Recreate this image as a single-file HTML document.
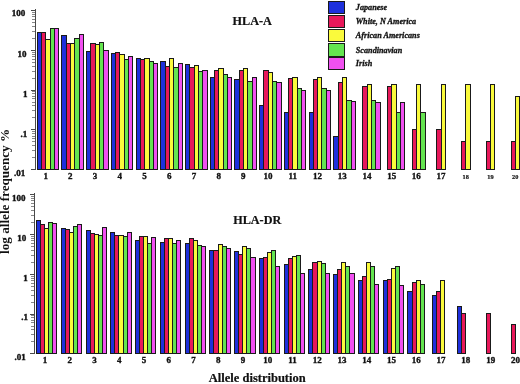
<!DOCTYPE html>
<html><head><meta charset="utf-8"><style>
html,body{margin:0;padding:0;background:#fff;width:520px;height:384px;overflow:hidden}
svg{display:block;will-change:transform}
</style></head><body>
<svg width="520" height="384" viewBox="0 0 520 384">
<style>
text{font-family:"Liberation Serif",serif;font-weight:bold;fill:#111}
.xl{font-size:9px;text-anchor:middle;stroke:#111;stroke-width:0.35px}
.xls{font-size:6.3px;text-anchor:middle;stroke:#111;stroke-width:0.2px}
.yl{font-size:9px;text-anchor:end;stroke:#111;stroke-width:0.4px}
.tt{font-size:12.5px;stroke:#111;stroke-width:0.2px}
.yt{font-size:11.5px}
.lg{font-style:italic;font-size:8.2px;stroke:#111;stroke-width:0.3px}
</style>
<g shape-rendering="crispEdges">
<rect x="37" y="32" width="5" height="138" fill="#1a1a1a"/>
<rect x="38" y="33" width="3" height="136" fill="#1e30dc"/>
<rect x="41" y="32" width="5" height="138" fill="#1a1a1a"/>
<rect x="42" y="33" width="3" height="136" fill="#e8185a"/>
<rect x="45" y="39" width="6" height="131" fill="#1a1a1a"/>
<rect x="46" y="40" width="4" height="129" fill="#fafa3c"/>
<rect x="50" y="28" width="5" height="142" fill="#1a1a1a"/>
<rect x="51" y="29" width="3" height="140" fill="#64e450"/>
<rect x="54" y="28" width="5" height="142" fill="#1a1a1a"/>
<rect x="55" y="29" width="3" height="140" fill="#f050f0"/>
<rect x="61" y="35" width="6" height="135" fill="#1a1a1a"/>
<rect x="62" y="36" width="4" height="133" fill="#1e30dc"/>
<rect x="66" y="43" width="5" height="127" fill="#1a1a1a"/>
<rect x="67" y="44" width="3" height="125" fill="#e8185a"/>
<rect x="70" y="43" width="5" height="127" fill="#1a1a1a"/>
<rect x="71" y="44" width="3" height="125" fill="#fafa3c"/>
<rect x="74" y="38" width="6" height="132" fill="#1a1a1a"/>
<rect x="75" y="39" width="4" height="130" fill="#64e450"/>
<rect x="79" y="34" width="5" height="136" fill="#1a1a1a"/>
<rect x="80" y="35" width="3" height="134" fill="#f050f0"/>
<rect x="86" y="51" width="5" height="119" fill="#1a1a1a"/>
<rect x="87" y="52" width="3" height="117" fill="#1e30dc"/>
<rect x="90" y="43" width="6" height="127" fill="#1a1a1a"/>
<rect x="91" y="44" width="4" height="125" fill="#e8185a"/>
<rect x="95" y="44" width="5" height="126" fill="#1a1a1a"/>
<rect x="96" y="45" width="3" height="124" fill="#fafa3c"/>
<rect x="99" y="42" width="5" height="128" fill="#1a1a1a"/>
<rect x="100" y="43" width="3" height="126" fill="#64e450"/>
<rect x="103" y="50" width="6" height="120" fill="#1a1a1a"/>
<rect x="104" y="51" width="4" height="118" fill="#f050f0"/>
<rect x="111" y="53" width="5" height="117" fill="#1a1a1a"/>
<rect x="112" y="54" width="3" height="115" fill="#1e30dc"/>
<rect x="115" y="52" width="5" height="118" fill="#1a1a1a"/>
<rect x="116" y="53" width="3" height="116" fill="#e8185a"/>
<rect x="119" y="54" width="6" height="116" fill="#1a1a1a"/>
<rect x="120" y="55" width="4" height="114" fill="#fafa3c"/>
<rect x="124" y="59" width="5" height="111" fill="#1a1a1a"/>
<rect x="125" y="60" width="3" height="109" fill="#64e450"/>
<rect x="128" y="56" width="5" height="114" fill="#1a1a1a"/>
<rect x="129" y="57" width="3" height="112" fill="#f050f0"/>
<rect x="136" y="58" width="5" height="112" fill="#1a1a1a"/>
<rect x="137" y="59" width="3" height="110" fill="#1e30dc"/>
<rect x="140" y="59" width="5" height="111" fill="#1a1a1a"/>
<rect x="141" y="60" width="3" height="109" fill="#e8185a"/>
<rect x="144" y="58" width="6" height="112" fill="#1a1a1a"/>
<rect x="145" y="59" width="4" height="110" fill="#fafa3c"/>
<rect x="149" y="61" width="5" height="109" fill="#1a1a1a"/>
<rect x="150" y="62" width="3" height="107" fill="#64e450"/>
<rect x="153" y="63" width="5" height="107" fill="#1a1a1a"/>
<rect x="154" y="64" width="3" height="105" fill="#f050f0"/>
<rect x="160" y="61" width="6" height="109" fill="#1a1a1a"/>
<rect x="161" y="62" width="4" height="107" fill="#1e30dc"/>
<rect x="165" y="66" width="5" height="104" fill="#1a1a1a"/>
<rect x="166" y="67" width="3" height="102" fill="#e8185a"/>
<rect x="169" y="58" width="5" height="112" fill="#1a1a1a"/>
<rect x="170" y="59" width="3" height="110" fill="#fafa3c"/>
<rect x="173" y="67" width="6" height="103" fill="#1a1a1a"/>
<rect x="174" y="68" width="4" height="101" fill="#64e450"/>
<rect x="178" y="63" width="5" height="107" fill="#1a1a1a"/>
<rect x="179" y="64" width="3" height="105" fill="#f050f0"/>
<rect x="185" y="64" width="5" height="106" fill="#1a1a1a"/>
<rect x="186" y="65" width="3" height="104" fill="#1e30dc"/>
<rect x="189" y="67" width="6" height="103" fill="#1a1a1a"/>
<rect x="190" y="68" width="4" height="101" fill="#e8185a"/>
<rect x="194" y="65" width="5" height="105" fill="#1a1a1a"/>
<rect x="195" y="66" width="3" height="103" fill="#fafa3c"/>
<rect x="198" y="71" width="5" height="99" fill="#1a1a1a"/>
<rect x="199" y="72" width="3" height="97" fill="#64e450"/>
<rect x="202" y="70" width="6" height="100" fill="#1a1a1a"/>
<rect x="203" y="71" width="4" height="98" fill="#f050f0"/>
<rect x="210" y="77" width="5" height="93" fill="#1a1a1a"/>
<rect x="211" y="78" width="3" height="91" fill="#1e30dc"/>
<rect x="214" y="70" width="5" height="100" fill="#1a1a1a"/>
<rect x="215" y="71" width="3" height="98" fill="#e8185a"/>
<rect x="218" y="68" width="6" height="102" fill="#1a1a1a"/>
<rect x="219" y="69" width="4" height="100" fill="#fafa3c"/>
<rect x="223" y="74" width="5" height="96" fill="#1a1a1a"/>
<rect x="224" y="75" width="3" height="94" fill="#64e450"/>
<rect x="227" y="77" width="5" height="93" fill="#1a1a1a"/>
<rect x="228" y="78" width="3" height="91" fill="#f050f0"/>
<rect x="234" y="79" width="6" height="91" fill="#1a1a1a"/>
<rect x="235" y="80" width="4" height="89" fill="#1e30dc"/>
<rect x="239" y="70" width="5" height="100" fill="#1a1a1a"/>
<rect x="240" y="71" width="3" height="98" fill="#e8185a"/>
<rect x="243" y="68" width="5" height="102" fill="#1a1a1a"/>
<rect x="244" y="69" width="3" height="100" fill="#fafa3c"/>
<rect x="247" y="81" width="6" height="89" fill="#1a1a1a"/>
<rect x="248" y="82" width="4" height="87" fill="#64e450"/>
<rect x="252" y="77" width="5" height="93" fill="#1a1a1a"/>
<rect x="253" y="78" width="3" height="91" fill="#f050f0"/>
<rect x="259" y="105" width="5" height="65" fill="#1a1a1a"/>
<rect x="260" y="106" width="3" height="63" fill="#1e30dc"/>
<rect x="263" y="70" width="6" height="100" fill="#1a1a1a"/>
<rect x="264" y="71" width="4" height="98" fill="#e8185a"/>
<rect x="268" y="72" width="5" height="98" fill="#1a1a1a"/>
<rect x="269" y="73" width="3" height="96" fill="#fafa3c"/>
<rect x="272" y="81" width="5" height="89" fill="#1a1a1a"/>
<rect x="273" y="82" width="3" height="87" fill="#64e450"/>
<rect x="276" y="82" width="6" height="88" fill="#1a1a1a"/>
<rect x="277" y="83" width="4" height="86" fill="#f050f0"/>
<rect x="284" y="112" width="5" height="58" fill="#1a1a1a"/>
<rect x="285" y="113" width="3" height="56" fill="#1e30dc"/>
<rect x="288" y="78" width="5" height="92" fill="#1a1a1a"/>
<rect x="289" y="79" width="3" height="90" fill="#e8185a"/>
<rect x="292" y="77" width="6" height="93" fill="#1a1a1a"/>
<rect x="293" y="78" width="4" height="91" fill="#fafa3c"/>
<rect x="297" y="88" width="5" height="82" fill="#1a1a1a"/>
<rect x="298" y="89" width="3" height="80" fill="#64e450"/>
<rect x="301" y="90" width="5" height="80" fill="#1a1a1a"/>
<rect x="302" y="91" width="3" height="78" fill="#f050f0"/>
<rect x="309" y="112" width="5" height="58" fill="#1a1a1a"/>
<rect x="310" y="113" width="3" height="56" fill="#1e30dc"/>
<rect x="313" y="79" width="5" height="91" fill="#1a1a1a"/>
<rect x="314" y="80" width="3" height="89" fill="#e8185a"/>
<rect x="317" y="77" width="5" height="93" fill="#1a1a1a"/>
<rect x="318" y="78" width="3" height="91" fill="#fafa3c"/>
<rect x="321" y="88" width="6" height="82" fill="#1a1a1a"/>
<rect x="322" y="89" width="4" height="80" fill="#64e450"/>
<rect x="326" y="90" width="5" height="80" fill="#1a1a1a"/>
<rect x="327" y="91" width="3" height="78" fill="#f050f0"/>
<rect x="333" y="136" width="6" height="34" fill="#1a1a1a"/>
<rect x="334" y="137" width="4" height="32" fill="#1e30dc"/>
<rect x="338" y="82" width="5" height="88" fill="#1a1a1a"/>
<rect x="339" y="83" width="3" height="86" fill="#e8185a"/>
<rect x="342" y="77" width="5" height="93" fill="#1a1a1a"/>
<rect x="343" y="78" width="3" height="91" fill="#fafa3c"/>
<rect x="346" y="100" width="6" height="70" fill="#1a1a1a"/>
<rect x="347" y="101" width="4" height="68" fill="#64e450"/>
<rect x="351" y="101" width="5" height="69" fill="#1a1a1a"/>
<rect x="352" y="102" width="3" height="67" fill="#f050f0"/>
<rect x="362" y="86" width="6" height="84" fill="#1a1a1a"/>
<rect x="363" y="87" width="4" height="82" fill="#e8185a"/>
<rect x="367" y="84" width="5" height="86" fill="#1a1a1a"/>
<rect x="368" y="85" width="3" height="84" fill="#fafa3c"/>
<rect x="371" y="100" width="5" height="70" fill="#1a1a1a"/>
<rect x="372" y="101" width="3" height="68" fill="#64e450"/>
<rect x="375" y="102" width="6" height="68" fill="#1a1a1a"/>
<rect x="376" y="103" width="4" height="66" fill="#f050f0"/>
<rect x="387" y="86" width="5" height="84" fill="#1a1a1a"/>
<rect x="388" y="87" width="3" height="82" fill="#e8185a"/>
<rect x="391" y="84" width="6" height="86" fill="#1a1a1a"/>
<rect x="392" y="85" width="4" height="84" fill="#fafa3c"/>
<rect x="396" y="112" width="5" height="58" fill="#1a1a1a"/>
<rect x="397" y="113" width="3" height="56" fill="#64e450"/>
<rect x="400" y="102" width="5" height="68" fill="#1a1a1a"/>
<rect x="401" y="103" width="3" height="66" fill="#f050f0"/>
<rect x="412" y="129" width="5" height="41" fill="#1a1a1a"/>
<rect x="413" y="130" width="3" height="39" fill="#e8185a"/>
<rect x="416" y="84" width="5" height="86" fill="#1a1a1a"/>
<rect x="417" y="85" width="3" height="84" fill="#fafa3c"/>
<rect x="420" y="112" width="6" height="58" fill="#1a1a1a"/>
<rect x="421" y="113" width="4" height="56" fill="#64e450"/>
<rect x="436" y="129" width="6" height="41" fill="#1a1a1a"/>
<rect x="437" y="130" width="4" height="39" fill="#e8185a"/>
<rect x="441" y="84" width="5" height="86" fill="#1a1a1a"/>
<rect x="442" y="85" width="3" height="84" fill="#fafa3c"/>
<rect x="461" y="141" width="5" height="29" fill="#1a1a1a"/>
<rect x="462" y="142" width="3" height="27" fill="#e8185a"/>
<rect x="465" y="84" width="6" height="86" fill="#1a1a1a"/>
<rect x="466" y="85" width="4" height="84" fill="#fafa3c"/>
<rect x="486" y="141" width="5" height="29" fill="#1a1a1a"/>
<rect x="487" y="142" width="3" height="27" fill="#e8185a"/>
<rect x="490" y="84" width="5" height="86" fill="#1a1a1a"/>
<rect x="491" y="85" width="3" height="84" fill="#fafa3c"/>
<rect x="511" y="141" width="5" height="29" fill="#1a1a1a"/>
<rect x="512" y="142" width="3" height="27" fill="#e8185a"/>
<rect x="515" y="96" width="5" height="74" fill="#1a1a1a"/>
<rect x="516" y="97" width="3" height="72" fill="#fafa3c"/>
<rect x="36" y="220" width="5" height="134" fill="#1a1a1a"/>
<rect x="37" y="221" width="3" height="132" fill="#1e30dc"/>
<rect x="40" y="224" width="5" height="130" fill="#1a1a1a"/>
<rect x="41" y="225" width="3" height="128" fill="#e8185a"/>
<rect x="44" y="228" width="5" height="126" fill="#1a1a1a"/>
<rect x="45" y="229" width="3" height="124" fill="#fafa3c"/>
<rect x="48" y="222" width="5" height="132" fill="#1a1a1a"/>
<rect x="49" y="223" width="3" height="130" fill="#64e450"/>
<rect x="52" y="223" width="5" height="131" fill="#1a1a1a"/>
<rect x="53" y="224" width="3" height="129" fill="#f050f0"/>
<rect x="61" y="228" width="5" height="126" fill="#1a1a1a"/>
<rect x="62" y="229" width="3" height="124" fill="#1e30dc"/>
<rect x="65" y="229" width="5" height="125" fill="#1a1a1a"/>
<rect x="66" y="230" width="3" height="123" fill="#e8185a"/>
<rect x="69" y="232" width="5" height="122" fill="#1a1a1a"/>
<rect x="70" y="233" width="3" height="120" fill="#fafa3c"/>
<rect x="73" y="226" width="5" height="128" fill="#1a1a1a"/>
<rect x="74" y="227" width="3" height="126" fill="#64e450"/>
<rect x="77" y="224" width="5" height="130" fill="#1a1a1a"/>
<rect x="78" y="225" width="3" height="128" fill="#f050f0"/>
<rect x="86" y="230" width="5" height="124" fill="#1a1a1a"/>
<rect x="87" y="231" width="3" height="122" fill="#1e30dc"/>
<rect x="90" y="233" width="5" height="121" fill="#1a1a1a"/>
<rect x="91" y="234" width="3" height="119" fill="#e8185a"/>
<rect x="94" y="234" width="5" height="120" fill="#1a1a1a"/>
<rect x="95" y="235" width="3" height="118" fill="#fafa3c"/>
<rect x="98" y="235" width="5" height="119" fill="#1a1a1a"/>
<rect x="99" y="236" width="3" height="117" fill="#64e450"/>
<rect x="102" y="227" width="5" height="127" fill="#1a1a1a"/>
<rect x="103" y="228" width="3" height="125" fill="#f050f0"/>
<rect x="110" y="232" width="5" height="122" fill="#1a1a1a"/>
<rect x="111" y="233" width="3" height="120" fill="#1e30dc"/>
<rect x="114" y="235" width="5" height="119" fill="#1a1a1a"/>
<rect x="115" y="236" width="3" height="117" fill="#e8185a"/>
<rect x="118" y="235" width="6" height="119" fill="#1a1a1a"/>
<rect x="119" y="236" width="4" height="117" fill="#fafa3c"/>
<rect x="123" y="236" width="5" height="118" fill="#1a1a1a"/>
<rect x="124" y="237" width="3" height="116" fill="#64e450"/>
<rect x="127" y="232" width="5" height="122" fill="#1a1a1a"/>
<rect x="128" y="233" width="3" height="120" fill="#f050f0"/>
<rect x="135" y="240" width="5" height="114" fill="#1a1a1a"/>
<rect x="136" y="241" width="3" height="112" fill="#1e30dc"/>
<rect x="139" y="236" width="5" height="118" fill="#1a1a1a"/>
<rect x="140" y="237" width="3" height="116" fill="#e8185a"/>
<rect x="143" y="236" width="5" height="118" fill="#1a1a1a"/>
<rect x="144" y="237" width="3" height="116" fill="#fafa3c"/>
<rect x="147" y="243" width="5" height="111" fill="#1a1a1a"/>
<rect x="148" y="244" width="3" height="109" fill="#64e450"/>
<rect x="151" y="237" width="5" height="117" fill="#1a1a1a"/>
<rect x="152" y="238" width="3" height="115" fill="#f050f0"/>
<rect x="160" y="242" width="5" height="112" fill="#1a1a1a"/>
<rect x="161" y="243" width="3" height="110" fill="#1e30dc"/>
<rect x="164" y="238" width="5" height="116" fill="#1a1a1a"/>
<rect x="165" y="239" width="3" height="114" fill="#e8185a"/>
<rect x="168" y="238" width="5" height="116" fill="#1a1a1a"/>
<rect x="169" y="239" width="3" height="114" fill="#fafa3c"/>
<rect x="172" y="243" width="5" height="111" fill="#1a1a1a"/>
<rect x="173" y="244" width="3" height="109" fill="#64e450"/>
<rect x="176" y="240" width="5" height="114" fill="#1a1a1a"/>
<rect x="177" y="241" width="3" height="112" fill="#f050f0"/>
<rect x="185" y="243" width="5" height="111" fill="#1a1a1a"/>
<rect x="186" y="244" width="3" height="109" fill="#1e30dc"/>
<rect x="189" y="238" width="5" height="116" fill="#1a1a1a"/>
<rect x="190" y="239" width="3" height="114" fill="#e8185a"/>
<rect x="193" y="240" width="5" height="114" fill="#1a1a1a"/>
<rect x="194" y="241" width="3" height="112" fill="#fafa3c"/>
<rect x="197" y="245" width="5" height="109" fill="#1a1a1a"/>
<rect x="198" y="246" width="3" height="107" fill="#64e450"/>
<rect x="201" y="246" width="5" height="108" fill="#1a1a1a"/>
<rect x="202" y="247" width="3" height="106" fill="#f050f0"/>
<rect x="209" y="250" width="5" height="104" fill="#1a1a1a"/>
<rect x="210" y="251" width="3" height="102" fill="#1e30dc"/>
<rect x="213" y="250" width="6" height="104" fill="#1a1a1a"/>
<rect x="214" y="251" width="4" height="102" fill="#e8185a"/>
<rect x="218" y="244" width="5" height="110" fill="#1a1a1a"/>
<rect x="219" y="245" width="3" height="108" fill="#fafa3c"/>
<rect x="222" y="246" width="5" height="108" fill="#1a1a1a"/>
<rect x="223" y="247" width="3" height="106" fill="#64e450"/>
<rect x="226" y="248" width="5" height="106" fill="#1a1a1a"/>
<rect x="227" y="249" width="3" height="104" fill="#f050f0"/>
<rect x="234" y="251" width="5" height="103" fill="#1a1a1a"/>
<rect x="235" y="252" width="3" height="101" fill="#1e30dc"/>
<rect x="238" y="254" width="5" height="100" fill="#1a1a1a"/>
<rect x="239" y="255" width="3" height="98" fill="#e8185a"/>
<rect x="242" y="246" width="5" height="108" fill="#1a1a1a"/>
<rect x="243" y="247" width="3" height="106" fill="#fafa3c"/>
<rect x="246" y="248" width="5" height="106" fill="#1a1a1a"/>
<rect x="247" y="249" width="3" height="104" fill="#64e450"/>
<rect x="250" y="257" width="6" height="97" fill="#1a1a1a"/>
<rect x="251" y="258" width="4" height="95" fill="#f050f0"/>
<rect x="259" y="258" width="5" height="96" fill="#1a1a1a"/>
<rect x="260" y="259" width="3" height="94" fill="#1e30dc"/>
<rect x="263" y="257" width="5" height="97" fill="#1a1a1a"/>
<rect x="264" y="258" width="3" height="95" fill="#e8185a"/>
<rect x="267" y="252" width="5" height="102" fill="#1a1a1a"/>
<rect x="268" y="253" width="3" height="100" fill="#fafa3c"/>
<rect x="271" y="250" width="5" height="104" fill="#1a1a1a"/>
<rect x="272" y="251" width="3" height="102" fill="#64e450"/>
<rect x="275" y="266" width="5" height="88" fill="#1a1a1a"/>
<rect x="276" y="267" width="3" height="86" fill="#f050f0"/>
<rect x="284" y="264" width="5" height="90" fill="#1a1a1a"/>
<rect x="285" y="265" width="3" height="88" fill="#1e30dc"/>
<rect x="288" y="258" width="5" height="96" fill="#1a1a1a"/>
<rect x="289" y="259" width="3" height="94" fill="#e8185a"/>
<rect x="292" y="256" width="5" height="98" fill="#1a1a1a"/>
<rect x="293" y="257" width="3" height="96" fill="#fafa3c"/>
<rect x="296" y="255" width="5" height="99" fill="#1a1a1a"/>
<rect x="297" y="256" width="3" height="97" fill="#64e450"/>
<rect x="300" y="273" width="5" height="81" fill="#1a1a1a"/>
<rect x="301" y="274" width="3" height="79" fill="#f050f0"/>
<rect x="308" y="269" width="5" height="85" fill="#1a1a1a"/>
<rect x="309" y="270" width="3" height="83" fill="#1e30dc"/>
<rect x="312" y="262" width="6" height="92" fill="#1a1a1a"/>
<rect x="313" y="263" width="4" height="90" fill="#e8185a"/>
<rect x="317" y="261" width="5" height="93" fill="#1a1a1a"/>
<rect x="318" y="262" width="3" height="91" fill="#fafa3c"/>
<rect x="321" y="263" width="5" height="91" fill="#1a1a1a"/>
<rect x="322" y="264" width="3" height="89" fill="#64e450"/>
<rect x="325" y="273" width="5" height="81" fill="#1a1a1a"/>
<rect x="326" y="274" width="3" height="79" fill="#f050f0"/>
<rect x="333" y="274" width="5" height="80" fill="#1a1a1a"/>
<rect x="334" y="275" width="3" height="78" fill="#1e30dc"/>
<rect x="337" y="269" width="5" height="85" fill="#1a1a1a"/>
<rect x="338" y="270" width="3" height="83" fill="#e8185a"/>
<rect x="341" y="262" width="5" height="92" fill="#1a1a1a"/>
<rect x="342" y="263" width="3" height="90" fill="#fafa3c"/>
<rect x="345" y="266" width="5" height="88" fill="#1a1a1a"/>
<rect x="346" y="267" width="3" height="86" fill="#64e450"/>
<rect x="349" y="273" width="6" height="81" fill="#1a1a1a"/>
<rect x="350" y="274" width="4" height="79" fill="#f050f0"/>
<rect x="358" y="280" width="5" height="74" fill="#1a1a1a"/>
<rect x="359" y="281" width="3" height="72" fill="#1e30dc"/>
<rect x="362" y="276" width="5" height="78" fill="#1a1a1a"/>
<rect x="363" y="277" width="3" height="76" fill="#e8185a"/>
<rect x="366" y="262" width="5" height="92" fill="#1a1a1a"/>
<rect x="367" y="263" width="3" height="90" fill="#fafa3c"/>
<rect x="370" y="266" width="5" height="88" fill="#1a1a1a"/>
<rect x="371" y="267" width="3" height="86" fill="#64e450"/>
<rect x="374" y="284" width="5" height="70" fill="#1a1a1a"/>
<rect x="375" y="285" width="3" height="68" fill="#f050f0"/>
<rect x="383" y="280" width="5" height="74" fill="#1a1a1a"/>
<rect x="384" y="281" width="3" height="72" fill="#1e30dc"/>
<rect x="387" y="279" width="5" height="75" fill="#1a1a1a"/>
<rect x="388" y="280" width="3" height="73" fill="#e8185a"/>
<rect x="391" y="268" width="5" height="86" fill="#1a1a1a"/>
<rect x="392" y="269" width="3" height="84" fill="#fafa3c"/>
<rect x="395" y="266" width="5" height="88" fill="#1a1a1a"/>
<rect x="396" y="267" width="3" height="86" fill="#64e450"/>
<rect x="399" y="285" width="5" height="69" fill="#1a1a1a"/>
<rect x="400" y="286" width="3" height="67" fill="#f050f0"/>
<rect x="407" y="291" width="6" height="63" fill="#1a1a1a"/>
<rect x="408" y="292" width="4" height="61" fill="#1e30dc"/>
<rect x="412" y="282" width="5" height="72" fill="#1a1a1a"/>
<rect x="413" y="283" width="3" height="70" fill="#e8185a"/>
<rect x="416" y="280" width="5" height="74" fill="#1a1a1a"/>
<rect x="417" y="281" width="3" height="72" fill="#fafa3c"/>
<rect x="420" y="284" width="5" height="70" fill="#1a1a1a"/>
<rect x="421" y="285" width="3" height="68" fill="#64e450"/>
<rect x="432" y="295" width="5" height="59" fill="#1a1a1a"/>
<rect x="433" y="296" width="3" height="57" fill="#1e30dc"/>
<rect x="436" y="291" width="5" height="63" fill="#1a1a1a"/>
<rect x="437" y="292" width="3" height="61" fill="#e8185a"/>
<rect x="440" y="280" width="5" height="74" fill="#1a1a1a"/>
<rect x="441" y="281" width="3" height="72" fill="#fafa3c"/>
<rect x="457" y="306" width="5" height="48" fill="#1a1a1a"/>
<rect x="458" y="307" width="3" height="46" fill="#1e30dc"/>
<rect x="461" y="313" width="5" height="41" fill="#1a1a1a"/>
<rect x="462" y="314" width="3" height="39" fill="#e8185a"/>
<rect x="486" y="313" width="5" height="41" fill="#1a1a1a"/>
<rect x="487" y="314" width="3" height="39" fill="#e8185a"/>
<rect x="511" y="324" width="5" height="30" fill="#1a1a1a"/>
<rect x="512" y="325" width="3" height="28" fill="#e8185a"/>
<rect x="35" y="9" width="1" height="161" fill="#4a4a4a"/>
<rect x="31" y="10" width="4" height="1" fill="#4a4a4a"/>
<rect x="32" y="38" width="3" height="1" fill="#888"/>
<rect x="32" y="31" width="3" height="1" fill="#888"/>
<rect x="32" y="26" width="3" height="1" fill="#888"/>
<rect x="32" y="22" width="3" height="1" fill="#888"/>
<rect x="32" y="19" width="3" height="1" fill="#888"/>
<rect x="32" y="16" width="3" height="1" fill="#888"/>
<rect x="32" y="14" width="3" height="1" fill="#888"/>
<rect x="32" y="12" width="3" height="1" fill="#888"/>
<rect x="31" y="50" width="4" height="1" fill="#4a4a4a"/>
<rect x="32" y="78" width="3" height="1" fill="#888"/>
<rect x="32" y="71" width="3" height="1" fill="#888"/>
<rect x="32" y="66" width="3" height="1" fill="#888"/>
<rect x="32" y="62" width="3" height="1" fill="#888"/>
<rect x="32" y="59" width="3" height="1" fill="#888"/>
<rect x="32" y="56" width="3" height="1" fill="#888"/>
<rect x="32" y="54" width="3" height="1" fill="#888"/>
<rect x="32" y="52" width="3" height="1" fill="#888"/>
<rect x="31" y="90" width="4" height="1" fill="#4a4a4a"/>
<rect x="32" y="117" width="3" height="1" fill="#888"/>
<rect x="32" y="110" width="3" height="1" fill="#888"/>
<rect x="32" y="105" width="3" height="1" fill="#888"/>
<rect x="32" y="102" width="3" height="1" fill="#888"/>
<rect x="32" y="98" width="3" height="1" fill="#888"/>
<rect x="32" y="96" width="3" height="1" fill="#888"/>
<rect x="32" y="93" width="3" height="1" fill="#888"/>
<rect x="32" y="91" width="3" height="1" fill="#888"/>
<rect x="31" y="129" width="4" height="1" fill="#4a4a4a"/>
<rect x="32" y="157" width="3" height="1" fill="#888"/>
<rect x="32" y="150" width="3" height="1" fill="#888"/>
<rect x="32" y="145" width="3" height="1" fill="#888"/>
<rect x="32" y="141" width="3" height="1" fill="#888"/>
<rect x="32" y="138" width="3" height="1" fill="#888"/>
<rect x="32" y="136" width="3" height="1" fill="#888"/>
<rect x="32" y="133" width="3" height="1" fill="#888"/>
<rect x="32" y="131" width="3" height="1" fill="#888"/>
<rect x="31" y="169" width="4" height="1" fill="#4a4a4a"/>
<rect x="34" y="193" width="1" height="161" fill="#4a4a4a"/>
<rect x="30" y="194" width="4" height="1" fill="#4a4a4a"/>
<rect x="31" y="222" width="3" height="1" fill="#888"/>
<rect x="31" y="215" width="3" height="1" fill="#888"/>
<rect x="31" y="210" width="3" height="1" fill="#888"/>
<rect x="31" y="206" width="3" height="1" fill="#888"/>
<rect x="31" y="203" width="3" height="1" fill="#888"/>
<rect x="31" y="200" width="3" height="1" fill="#888"/>
<rect x="31" y="198" width="3" height="1" fill="#888"/>
<rect x="31" y="196" width="3" height="1" fill="#888"/>
<rect x="30" y="234" width="4" height="1" fill="#4a4a4a"/>
<rect x="31" y="262" width="3" height="1" fill="#888"/>
<rect x="31" y="255" width="3" height="1" fill="#888"/>
<rect x="31" y="250" width="3" height="1" fill="#888"/>
<rect x="31" y="246" width="3" height="1" fill="#888"/>
<rect x="31" y="243" width="3" height="1" fill="#888"/>
<rect x="31" y="240" width="3" height="1" fill="#888"/>
<rect x="31" y="238" width="3" height="1" fill="#888"/>
<rect x="31" y="236" width="3" height="1" fill="#888"/>
<rect x="30" y="274" width="4" height="1" fill="#4a4a4a"/>
<rect x="31" y="302" width="3" height="1" fill="#888"/>
<rect x="31" y="295" width="3" height="1" fill="#888"/>
<rect x="31" y="290" width="3" height="1" fill="#888"/>
<rect x="31" y="286" width="3" height="1" fill="#888"/>
<rect x="31" y="283" width="3" height="1" fill="#888"/>
<rect x="31" y="280" width="3" height="1" fill="#888"/>
<rect x="31" y="278" width="3" height="1" fill="#888"/>
<rect x="31" y="276" width="3" height="1" fill="#888"/>
<rect x="30" y="314" width="4" height="1" fill="#4a4a4a"/>
<rect x="31" y="341" width="3" height="1" fill="#888"/>
<rect x="31" y="334" width="3" height="1" fill="#888"/>
<rect x="31" y="329" width="3" height="1" fill="#888"/>
<rect x="31" y="326" width="3" height="1" fill="#888"/>
<rect x="31" y="322" width="3" height="1" fill="#888"/>
<rect x="31" y="320" width="3" height="1" fill="#888"/>
<rect x="31" y="317" width="3" height="1" fill="#888"/>
<rect x="31" y="315" width="3" height="1" fill="#888"/>
<rect x="30" y="353" width="4" height="1" fill="#4a4a4a"/>
</g>
<text x="45.66" y="179.30" class="xl">1</text>
<text x="70.37" y="179.30" class="xl">2</text>
<text x="95.08" y="179.30" class="xl">3</text>
<text x="119.80" y="179.30" class="xl">4</text>
<text x="144.51" y="179.30" class="xl">5</text>
<text x="169.22" y="179.30" class="xl">6</text>
<text x="193.93" y="179.30" class="xl">7</text>
<text x="218.64" y="179.30" class="xl">8</text>
<text x="243.36" y="179.30" class="xl">9</text>
<text x="268.07" y="179.30" class="xl">10</text>
<text x="292.78" y="179.30" class="xl">11</text>
<text x="317.49" y="179.30" class="xl">12</text>
<text x="342.20" y="179.30" class="xl">13</text>
<text x="366.92" y="179.30" class="xl">14</text>
<text x="391.63" y="179.30" class="xl">15</text>
<text x="416.34" y="179.30" class="xl">16</text>
<text x="441.05" y="179.30" class="xl">17</text>
<text x="465.76" y="178.60" class="xls">18</text>
<text x="490.48" y="178.60" class="xls">19</text>
<text x="515.19" y="178.60" class="xls">20</text>
<text x="44.91" y="363.40" class="xl">1</text>
<text x="69.67" y="363.40" class="xl">2</text>
<text x="94.43" y="363.40" class="xl">3</text>
<text x="119.20" y="363.40" class="xl">4</text>
<text x="143.96" y="363.40" class="xl">5</text>
<text x="168.72" y="363.40" class="xl">6</text>
<text x="193.48" y="363.40" class="xl">7</text>
<text x="218.24" y="363.40" class="xl">8</text>
<text x="243.01" y="363.40" class="xl">9</text>
<text x="267.77" y="363.40" class="xl">10</text>
<text x="292.53" y="363.40" class="xl">11</text>
<text x="317.29" y="363.40" class="xl">12</text>
<text x="342.05" y="363.40" class="xl">13</text>
<text x="366.82" y="363.40" class="xl">14</text>
<text x="391.58" y="363.40" class="xl">15</text>
<text x="416.34" y="363.40" class="xl">16</text>
<text x="441.10" y="363.40" class="xl">17</text>
<text x="465.86" y="363.40" class="xl">18</text>
<text x="490.63" y="363.40" class="xl">19</text>
<text x="515.39" y="363.40" class="xl">20</text>
<text x="25.3" y="16.1" class="yl">100</text>
<text x="26.6" y="56.5" class="yl">10</text>
<text x="27.5" y="96.6" class="yl">1</text>
<text x="27.2" y="136.9" class="yl">.1</text>
<text x="25.2" y="175.6" class="yl">.01</text>
<text x="25.5" y="201.3" class="yl">100</text>
<text x="26.3" y="240.8" class="yl">10</text>
<text x="27.8" y="280.8" class="yl">1</text>
<text x="27.9" y="320.3" class="yl">.1</text>
<text x="25.8" y="360.0" class="yl">.01</text>
<text x="232.6" y="25.3" class="tt" style="font-size:12.2px">HLA-A</text>
<text x="233.2" y="224.0" class="tt" style="font-size:12.2px">HLA-DR</text>
<text x="208.8" y="382.4" class="tt">Allele distribution</text>
<text transform="translate(9.2,253.9) rotate(-90)" class="yt" textLength="125" lengthAdjust="spacingAndGlyphs">log allele frequency %</text>
<g shape-rendering="crispEdges">
<rect x="328" y="1" width="17" height="13" fill="#1a1a1a"/><rect x="329" y="2" width="15" height="11" fill="#1e30dc"/>
<rect x="328" y="15" width="17" height="13" fill="#1a1a1a"/><rect x="329" y="16" width="15" height="11" fill="#e8185a"/>
<rect x="328" y="29" width="17" height="13" fill="#1a1a1a"/><rect x="329" y="30" width="15" height="11" fill="#fafa3c"/>
<rect x="328" y="43" width="17" height="14" fill="#1a1a1a"/><rect x="329" y="44" width="15" height="12" fill="#64e450"/>
<rect x="328" y="57" width="17" height="13" fill="#1a1a1a"/><rect x="329" y="58" width="15" height="11" fill="#f050f0"/>
</g>
<text x="355.8" y="10.4" class="lg">Japanese</text>
<text x="355.8" y="24.3" class="lg">White, N America</text>
<text x="355.8" y="38.4" class="lg">African Americans</text>
<text x="355.8" y="52.6" class="lg">Scandinavian</text>
<text x="355.8" y="66.3" class="lg">Irish</text>
</svg>
</body></html>
